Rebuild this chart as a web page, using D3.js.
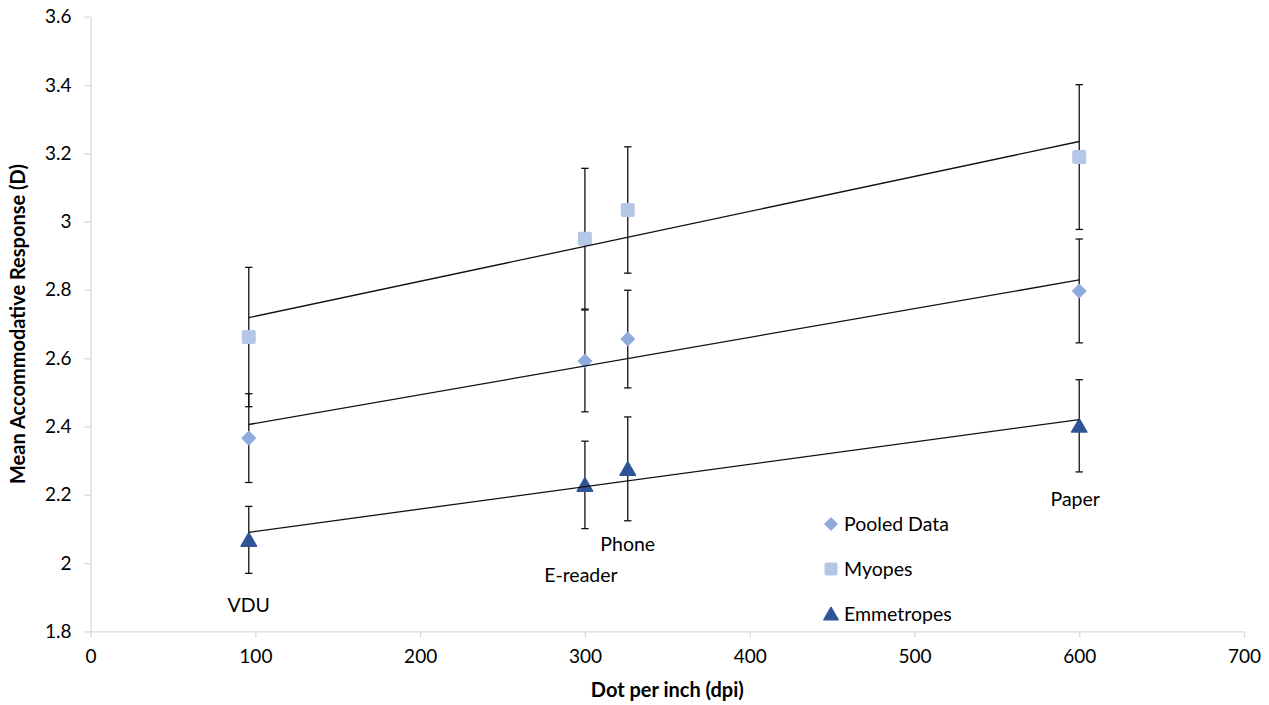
<!DOCTYPE html>
<html>
<head>
<meta charset="utf-8">
<script src="https://cdn.jsdelivr.net/npm/d3@7"></script>
<style>
  html, body { margin: 0; padding: 0; background: #fff; }
  svg { display: block; font-family: Lato, "Open Sans", sans-serif; }
</style>
</head>
<body>
<svg id="chart" width="1269" height="705"></svg>
<script>
// ---- data ----
const devices = ["VDU", "E-reader", "Phone", "Paper"];
const dpi = [96, 300, 326, 600];
const pooledMean = [2.366, 2.592, 2.656, 2.797];
const pooledErr  = [0.130, 0.149, 0.143, 0.152];
const myopesMean = [2.662, 2.950, 3.034, 3.189];
const myopesErr  = [0.204, 0.206, 0.185, 0.212];
const emmMean    = [2.068, 2.229, 2.276, 2.402];
const emmErr     = [0.098, 0.128, 0.152, 0.135];
const xTicks = [0, 100, 200, 300, 400, 500, 600, 700];
const yTicks = [1.8, 2.0, 2.2, 2.4, 2.6, 2.8, 3.0, 3.2, 3.4, 3.6];
const seriesNames = ["Pooled Data", "Myopes", "Emmetropes"];

const svg = d3.select("#chart");
const x = d3.scaleLinear().domain([0, 700]).range([90.6, 1244]);
const y = d3.scaleLinear().domain([1.8, 3.6]).range([631.4, 16.7]);

const axisColor = "#d9d9d9";
const tickFont = 19;
const labelFont = 19.5;

// axes
const gx = svg.append("g").attr("transform", `translate(0,${y(1.8)})`)
  .call(d3.axisBottom(x).tickValues(xTicks).tickFormat(d3.format("d")).tickSize(6).tickSizeOuter(0).tickPadding(12));
const gy = svg.append("g").attr("transform", `translate(${x(0)},0)`)
  .call(d3.axisLeft(y).tickValues(yTicks).tickFormat(d => d3.format("~g")(+d.toFixed(1))).tickSize(6).tickSizeOuter(0).tickPadding(13));
[gx, gy].forEach(g => {
  g.select(".domain").attr("stroke", axisColor).attr("stroke-width", 1.3);
  g.selectAll(".tick line").attr("stroke", axisColor).attr("stroke-width", 1.3);
  g.selectAll(".tick text").attr("fill", "#000").style("font-size", tickFont + "px").style("font-family", "Lato");
});

// axis titles
svg.append("text").attr("x", x(350)).attr("y", 697).attr("text-anchor", "middle")
  .style("font-weight", "bold").style("font-size", "20px").text("Dot per inch (dpi)");
svg.append("text").attr("transform", `translate(25,${(y(1.8)+y(3.6))/2}) rotate(-90)`)
  .attr("text-anchor", "middle").style("font-weight", "bold").style("font-size", "20px")
  .text("Mean Accommodative Response (D)");

const series = [
  { name: seriesNames[0], mean: pooledMean, err: pooledErr, color: "#8faadc", shape: "diamond" },
  { name: seriesNames[1], mean: myopesMean, err: myopesErr, color: "#b4c7e7", shape: "square" },
  { name: seriesNames[2], mean: emmMean, err: emmErr, color: "#2f5597", shape: "triangle" }
];

function shapePath(shape, s) {
  if (shape === "diamond") return `M0,${-s/2}L${s/2},0L0,${s/2}L${-s/2},0Z`;
  return `M0,${-s*0.5}L${s*0.55},${s*0.45}L${-s*0.55},${s*0.45}Z`;
}
function drawMarker(g, shape, color, cx, cy, s) {
  if (shape === "square") {
    g.append("rect").attr("x", cx - s/2).attr("y", cy - s/2).attr("width", s).attr("height", s)
      .attr("rx", 2).attr("fill", color);
  } else {
    g.append("path").attr("d", shapePath(shape, s)).attr("transform", `translate(${cx},${cy})`)
      .attr("fill", color).attr("stroke", color).attr("stroke-width", 1.5).attr("stroke-linejoin", "round");
  }
}

// linear regression trend
function linfit(xs, ys) {
  const mx = d3.mean(xs), my = d3.mean(ys);
  let sxy = 0, sxx = 0;
  xs.forEach((xi, i) => { sxy += (xi - mx) * (ys[i] - my); sxx += (xi - mx) ** 2; });
  const b = sxy / sxx;
  return v => my + b * (v - mx);
}

// error bars
const errG = svg.append("g");
series.forEach(s => {
  dpi.forEach((d, i) => {
    const cx = x(d), top = y(s.mean[i] + s.err[i]), bot = y(s.mean[i] - s.err[i]);
    errG.append("line").attr("x1", cx).attr("x2", cx).attr("y1", top).attr("y2", bot)
      .attr("stroke", "#111").attr("stroke-width", 1.3);
    [top, bot].forEach(yy => errG.append("line").attr("x1", cx - 3.7).attr("x2", cx + 3.7)
      .attr("y1", yy).attr("y2", yy).attr("stroke", "#111").attr("stroke-width", 1.3));
  });
});

// markers
const markG = svg.append("g");
series.forEach(s => {
  const size = s.shape === "square" ? 14 : (s.shape === "diamond" ? 13 : 14);
  dpi.forEach((d, i) => drawMarker(markG, s.shape, s.color, x(d), y(s.mean[i]), size));
});

// trend lines
const trendG = svg.append("g");
series.forEach(s => {
  const f = linfit(dpi, s.mean);
  const x0 = d3.min(dpi), x1 = d3.max(dpi);
  trendG.append("line").attr("x1", x(x0)).attr("y1", y(f(x0))).attr("x2", x(x1)).attr("y2", y(f(x1)))
    .attr("stroke", "#111").attr("stroke-width", 1.3);
});

// device labels
const labelOffsets = [{dx: 0, dy: 72}, {dx: -4, dy: 97}, {dx: 0, dy: 82}, {dx: -4, dy: 80}];
devices.forEach((name, i) => {
  svg.append("text").attr("x", x(dpi[i]) + labelOffsets[i].dx).attr("y", y(emmMean[i]) + labelOffsets[i].dy)
    .attr("text-anchor", "middle").style("font-size", labelFont + "px").text(name);
});

// legend
const legend = svg.append("g");
series.forEach((s, i) => {
  const ly = 524 + i * 45;
  const size = s.shape === "square" ? 13 : (s.shape === "diamond" ? 12 : 13);
  drawMarker(legend, s.shape, s.color, 831, ly, size);
  legend.append("text").attr("x", 844).attr("y", ly + 7).style("font-size", labelFont + "px").text(s.name);
});
</script>
</body>
</html>
